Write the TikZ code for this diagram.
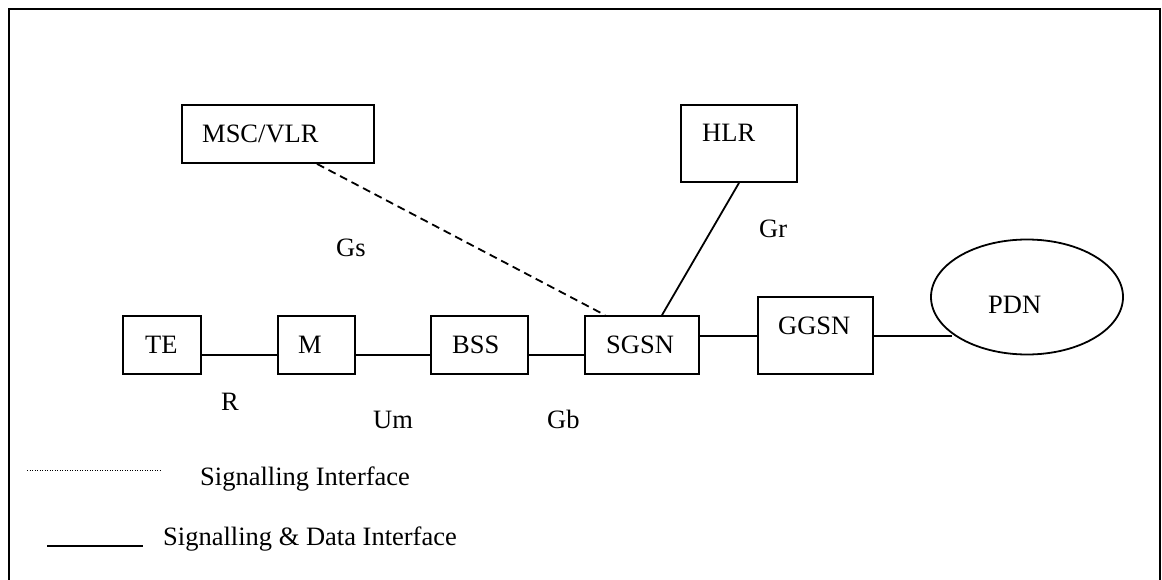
\documentclass[tikz,border=0pt]{standalone}
\usepackage{fontspec}
\setmainfont{Liberation Serif}
\usetikzlibrary{shapes.geometric}
\begin{document}
\begin{tikzpicture}[x=1pt,y=-1pt,
  every node/.style={font=\fontsize{26.5}{30}\selectfont},
  netbox/.style={draw, line width=1.8pt, rectangle, inner sep=0pt},
  lbl/.style={anchor=base west, inner sep=0pt},
  link/.style={line width=1.8pt},
  siglink/.style={line width=1.8pt, dash pattern=on 8pt off 5pt}]
\useasboundingbox (0,0) rectangle (1162,580);
\clip (0,0) rectangle (1162,580);
% outer frame
\draw[line width=2pt] (9,9) rectangle (1160,600);

% network elements
\node[netbox, minimum width=192pt, minimum height=58pt] (MSC) at (278,134) {};
\node[netbox, minimum width=116pt, minimum height=77pt] (HLR) at (739,143.5) {};
\node[netbox, minimum width=78pt, minimum height=58pt] (TE) at (162,345) {};
\node[netbox, minimum width=77pt, minimum height=58pt] (M) at (316.5,345) {};
\node[netbox, minimum width=97pt, minimum height=58pt] (BSS) at (479.5,345) {};
\node[netbox, minimum width=114pt, minimum height=58pt] (SGSN) at (642,345) {};
\node[netbox, minimum width=115pt, minimum height=77pt] (GGSN) at (815.5,335.5) {};
\node[draw, ellipse, line width=1.8pt, inner sep=0pt, minimum width=192pt, minimum height=115pt] (PDN) at (1027,297) {};

% element names
\node[lbl] (tMSC) at (202,143) {MSC/VLR};
\node[lbl] (tHLR) at (702,142) {HLR};
\node[lbl] (tTE) at (145,353) {TE};
\node[lbl] (tM) at (298,353) {M};
\node[lbl] (tBSS) at (452,353) {BSS};
\node[lbl] (tSGSN) at (606,353) {SGSN};
\node[lbl] (tGGSN) at (778,334) {GGSN};
\node[lbl] (tPDN) at (988,313) {PDN};

% interfaces
\draw[link] ([yshift=-10pt]TE.east) -- ([yshift=-10pt]M.west);
\draw[link] ([yshift=-10pt]M.east) -- ([yshift=-10pt]BSS.west);
\draw[link] ([yshift=-10pt]BSS.east) -- ([yshift=-10pt]SGSN.west);
\draw[link] ([yshift=9pt]SGSN.east) -- ([yshift=-0.5pt]GGSN.west);
\draw[link] ([yshift=-0.5pt]GGSN.east) -- ([xshift=-6pt,yshift=-0.5pt]GGSN.east -| PDN.south west);
\draw[link] (HLR.south) -- ([xshift=20pt]SGSN.north);
\draw[siglink] ([xshift=39pt]MSC.south) -- ([xshift=-37pt]SGSN.north);

% interface names
\node[lbl] (iR) at (221,410) {R};
\node[lbl] (iUm) at (373,428) {Um};
\node[lbl] (iGb) at (547,428) {Gb};
\node[lbl] (iGs) at (336,256) {Gs};
\node[lbl] (iGr) at (759,237) {Gr};

% legend
\coordinate (sigA) at (27,470);
\coordinate (sigB) at (161,470);
\coordinate (datA) at (47,546);
\coordinate (datB) at (143,546);
\draw[line width=1pt, dash pattern=on 1pt off 1.5pt] (sigA) -- (sigB);
\draw[line width=2.2pt] (datA) -- (datB);
\node[lbl] (lSig) at (200,485) {Signalling Interface};
\node[lbl] (lDat) at (163,545) {Signalling \& Data Interface};
\end{tikzpicture}
\end{document}
